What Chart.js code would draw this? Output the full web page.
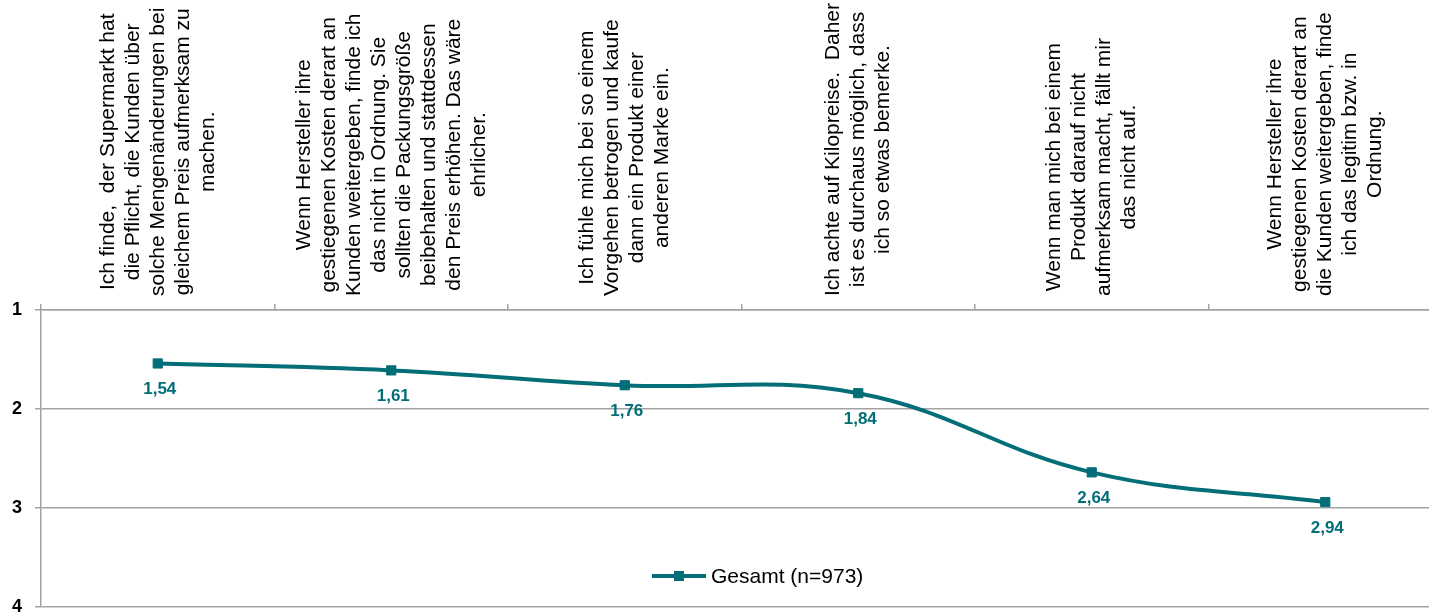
<!DOCTYPE html>
<html>
<head>
<meta charset="utf-8">
<script src="https://cdn.jsdelivr.net/npm/chart.js@4"></script>
<style>
  html, body { margin: 0; padding: 0; background: #fff; overflow: hidden; }
  #wrap { width: 1446px; height: 614px; position: relative; }
</style>
</head>
<body>
<div id="wrap"><canvas id="chart"></canvas></div>
<script>
const categories = [
    ['Ich finde,  der Supermarkt hat', 'die Pflicht, die Kunden über', 'solche Mengenänderungen bei', 'gleichem Preis aufmerksam zu', 'machen.'],
    ['Wenn Hersteller ihre', 'gestiegenen Kosten derart an', 'Kunden weitergeben, finde ich', 'das nicht in Ordnung. Sie', 'sollten die Packungsgröße', 'beibehalten und stattdessen', 'den Preis erhöhen. Das wäre', 'ehrlicher.'],
    ['Ich fühle mich bei so einem', 'Vorgehen betrogen und kaufe', 'dann ein Produkt einer', 'anderen Marke ein.'],
    ['Ich achte auf Kilopreise.  Daher', 'ist es durchaus möglich, dass', 'ich so etwas bemerke.'],
    ['Wenn man mich bei einem', 'Produkt darauf nicht', 'aufmerksam macht, fällt mir', 'das nicht auf.'],
    ['Wenn Hersteller ihre', 'gestiegenen Kosten derart an', 'die Kunden weitergeben, finde', 'ich das legitim bzw. in', 'Ordnung.']
];
const gesamt = [1.54, 1.61, 1.76, 1.84, 2.64, 2.94];
const seriesName = 'Gesamt (n=973)';
const yTicks = [1, 2, 3, 4];

const teal = '#036e78';
const grey = '#a3a3a3';
const fontFamily = '"Liberation Sans", Arial, sans-serif';

// rotated, centred category labels above the plot
const categoryLabels = {
    id: 'categoryLabels',
    afterDraw(chart) {
        const ctx = chart.ctx;
        const x = chart.scales.x;
        const bottom = 296;
        const lineGap = 25;
        ctx.save();
        ctx.font = '21px ' + fontFamily;
        ctx.fillStyle = '#000';
        ctx.textAlign = 'center';
        ctx.textBaseline = 'middle';
        categories.forEach((lines, i) => {
            const cx = x.getPixelForValue(i);
            const maxW = Math.max(...lines.map(l => ctx.measureText(l).width));
            ctx.save();
            ctx.translate(cx, bottom - maxW / 2);
            ctx.rotate(-Math.PI / 2);
            lines.forEach((l, j) => {
                ctx.fillText(l, 0, (j - (lines.length - 1) / 2) * lineGap);
            });
            ctx.restore();
        });
        ctx.restore();
    }
};

// value labels under each point
const valueLabels = {
    id: 'valueLabels',
    afterDatasetsDraw(chart) {
        const ctx = chart.ctx;
        const meta = chart.getDatasetMeta(0);
        ctx.save();
        ctx.font = 'bold 17px ' + fontFamily;
        ctx.fillStyle = teal;
        ctx.textAlign = 'center';
        ctx.textBaseline = 'middle';
        meta.data.forEach((pt, i) => {
            ctx.fillText(gesamt[i].toFixed(2).replace('.', ','), pt.x + 2, pt.y + 26);
        });
        ctx.restore();
    }
};

// legend sits inside the plot area, near the bottom
const insideLegend = {
    id: 'insideLegend',
    afterDraw(chart) {
        const ctx = chart.ctx;
        const area = chart.chartArea;
        const x0 = area.left + 611;
        const y = area.bottom - 31;
        ctx.save();
        ctx.strokeStyle = teal;
        ctx.lineWidth = 4;
        ctx.beginPath();
        ctx.moveTo(x0, y);
        ctx.lineTo(x0 + 54, y);
        ctx.stroke();
        ctx.fillStyle = teal;
        ctx.fillRect(x0 + 27 - 5, y - 5, 10, 10);
        ctx.fillStyle = '#000';
        ctx.font = '21px ' + fontFamily;
        ctx.textAlign = 'left';
        ctx.textBaseline = 'middle';
        ctx.fillText(seriesName, x0 + 59, y + 1);
        ctx.restore();
    }
};

new Chart(document.getElementById('chart').getContext('2d'), {
    type: 'line',
    data: {
        labels: categories,
        datasets: [{
            label: seriesName,
            data: gesamt,
            borderColor: teal,
            backgroundColor: teal,
            borderWidth: 4,
            tension: 0.4,
            pointStyle: 'rect',
            pointRadius: 6.5,
            pointBorderWidth: 1,
            pointBackgroundColor: teal,
            pointBorderColor: teal,
            clip: false
        }]
    },
    options: {
        responsive: true,
        maintainAspectRatio: false,
        animation: false,
        devicePixelRatio: 1,
        layout: {
            autoPadding: false,
            padding: { top: 304, left: 12, right: 4, bottom: 7 }
        },
        plugins: {
            legend: { display: false },
            title: { display: false },
            tooltip: { enabled: false }
        },
        scales: {
            x: {
                position: 'top',
                offset: true,
                grid: {
                    offset: true,
                    drawOnChartArea: false,
                    drawTicks: true,
                    tickLength: 6,
                    color: grey,
                    lineWidth: 1.5
                },
                border: { display: true, color: grey, width: 1.5 },
                ticks: { display: false }
            },
            y: {
                reverse: true,
                min: 1,
                max: 4,
                afterBuildTicks: (scale) => {
                    scale.ticks = yTicks.map(v => ({ value: v }));
                },
                afterFit: (scale) => {
                    scale.width = 29;
                },
                grid: {
                    color: grey,
                    lineWidth: 1.5,
                    drawTicks: true,
                    tickLength: 6
                },
                border: { display: true, color: grey, width: 1.5 },
                ticks: {
                    color: '#000',
                    padding: 0,
                    crossAlign: 'far',
                    font: { family: fontFamily, size: 18, weight: 'bold', lineHeight: 0.75 }
                }
            }
        }
    },
    plugins: [categoryLabels, valueLabels, insideLegend]
});
</script>
</body>
</html>
